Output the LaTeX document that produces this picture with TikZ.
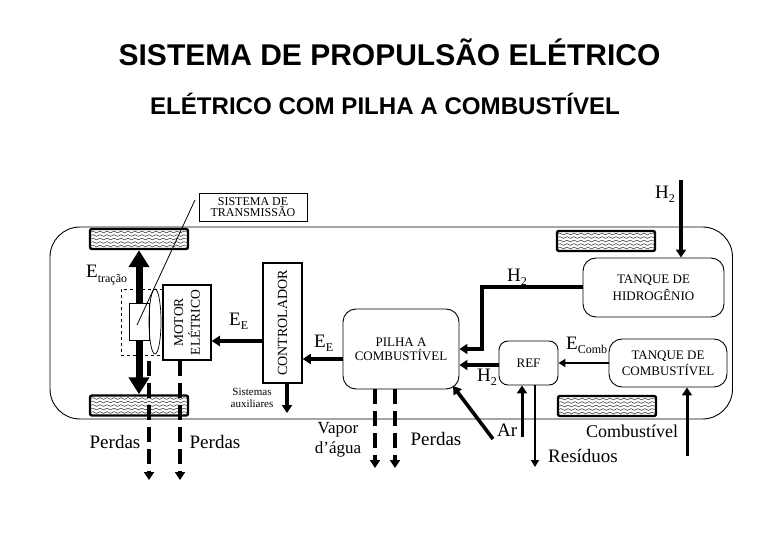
\documentclass[tikz,border=0pt]{standalone}
\usepackage{fontspec}
\usepackage{graphicx}
\setmainfont{Liberation Serif}
\newfontfamily\arialfont{Liberation Sans}
\usetikzlibrary{arrows.meta,decorations.pathmorphing,shapes.geometric}
\newcommand{\fsz}[1]{\fontsize{#1}{#1}\selectfont}
\newcommand{\lab}[3]{{\fsz{#1}#2\raisebox{-0.22em}{\fsz{12}#3}}}
\tikzset{
  titletext/.style={font=\arialfont\bfseries\fsz{30}},
  subtitletext/.style={font=\arialfont\bfseries\fsz{24.1}},
  body/.style={draw,line width=0.9pt,rounded corners=30pt},
  tyre/.style={draw,line width=2.4pt,rounded corners=2pt,fill=white,minimum width=98pt,minimum height=20pt,inner sep=0pt},
  wave/.style={draw=black!75,line width=0.5pt,decorate,decoration={snake,amplitude=0.9pt,segment length=7pt}},
  sqbox/.style={draw,line width=1.5pt,fill=white,inner sep=0pt,align=center},
  rbox/.style={draw,line width=0.9pt,rounded corners=13pt,fill=white,inner sep=0pt,align=center},
  boxtext/.style={font=\fsz{13},align=center},
  heavy/.style={line width=7pt,-{Triangle[length=17pt,width=20pt]}},
  flow/.style={line width=3.6pt,-{Triangle[length=8pt,width=10pt]}},
  thinflow/.style={line width=2pt,-{Triangle[length=7pt,width=8pt]}},
  lossflow/.style={line width=4.2pt,dash pattern=on 15pt off 7pt,-{Triangle[length=8pt,width=10pt]}},
  plain/.style={line width=0.8pt},
}
\newcommand{\tyreat}[3]{%
  \node[tyre] (#1) at (#2,#3) {};
  \foreach \dy in {-7,-3.5,0,3.5,7}{
    \path[wave] ([xshift=2pt,yshift=\dy pt]#1.west) -- ([xshift=-2pt,yshift=\dy pt]#1.east);
  }
}
\begin{document}
\begin{tikzpicture}[x=1pt,y=-1pt]
\useasboundingbox (0,0) rectangle (780,540);
\fill[white] (0,0) rectangle (780,540);
\node[titletext] (title) at (389.5,52) {SISTEMA DE PROPULSÃO ELÉTRICO};
\node[subtitletext] (subtitle) at (385,104) {ELÉTRICO COM PILHA A COMBUSTÍVEL};

\draw[body] (50,227) rectangle (732.5,419);
\tyreat{tl}{139}{239}
\tyreat{bl}{139}{405.5}
\tyreat{tr}{606}{241}
\tyreat{br}{607}{406}

% transmission
\node[draw,line width=0.9pt,fill=white,minimum width=108pt,minimum height=28pt,inner sep=0pt,align=center,font=\fsz{12}] (trans) at (253,207) {SISTEMA DE\\[-1pt]TRANSMISSÃO};
\node[draw,line width=0.7pt,dashed,minimum width=42pt,minimum height=66pt,inner sep=0pt] (gear) at (142,322) {};
\node[draw,line width=0.8pt,fill=white,minimum width=20pt,minimum height=37pt,inner sep=0pt] (diff) at (139,321.5) {};
\node[draw,line width=0.7pt,ellipse,minimum width=12pt,minimum height=65pt,inner sep=0pt] (ell) at (155,321.5) {};
\draw[heavy] (diff.north) -- (tl.south);
\draw[heavy] (diff.south) -- (bl.north);
\coordinate (lineend) at (137,325);
\coordinate (linestart) at (195,200);
\draw[plain] (linestart) -- (lineend);

\node[sqbox,minimum width=48pt,minimum height=75pt] (motor) at (187,322.5)
  {\rotatebox{90}{\fsz{13.5}\shortstack{MOTOR\\[2pt]ELÉTRICO}}};
\node[sqbox,minimum width=39pt,minimum height=120pt] (ctrl) at (282.5,323)
  {\rotatebox{90}{\fsz{14}CONTROLADOR}};
\node[rbox,boxtext,minimum width=116pt,minimum height=80pt] (cell) at (401,349) {PILHA A\\[1pt]COMBUSTÍVEL};
\node[rbox,boxtext,minimum width=141pt,minimum height=59pt] (htank) at (653.5,287.5) {TANQUE DE\\[3pt]HIDROGÊNIO};
\node[rbox,boxtext,minimum width=118pt,minimum height=48pt] (ftank) at (668,363) {TANQUE DE\\[2pt]COMBUSTÍVEL};
\node[rbox,boxtext,rounded corners=9pt,minimum width=59pt,minimum height=44pt] (ref) at (528.5,363) {REF};

% flows
\draw[flow] (ctrl.west |- 0,341) -- (motor.east |- 0,341);
\draw[flow] (cell.west |- 0,359) -- (ctrl.east |- 0,359);
\coordinate (auxend) at (287,413);
\draw[flow] (ctrl.south -| auxend) -- (auxend);
\coordinate (htop) at (681,180);
\draw[flow] (htop) -- (htank.north -| htop);
\coordinate (hbend) at (482,287);
\draw[flow,line width=3.4pt] (htank.west |- hbend) -- (hbend) |- (cell.east |- 0,349);
\draw[flow] (ref.west |- 0,365) -- (cell.east |- 0,365);
\draw[thinflow] (ftank.west |- 0,363) -- (ref.east |- 0,363);
\coordinate (arstart) at (493,439);
\coordinate (arend) at (453,386);
\draw[flow] (arstart) -- (arend);
\coordinate (arup) at (522,437);
\draw[flow,line width=3pt] (arup) -- (ref.south -| arup);
\coordinate (resend) at (535,467);
\draw[thinflow] (ref.south -| resend) -- (resend);
\coordinate (fuelstart) at (687,456);
\draw[flow,line width=3pt] (fuelstart) -- (ftank.south -| fuelstart);

% losses
\coordinate (l1) at (149,480);
\coordinate (l2) at (180,480);
\coordinate (l3) at (375,468);
\coordinate (l4) at (395,468);
\draw[lossflow] (motor.south -| l1) -- (l1);
\draw[lossflow] (motor.south -| l2) -- (l2);
\draw[lossflow] (cell.south -| l3) -- (l3);
\draw[lossflow] (cell.south -| l4) -- (l4);

% labels
\node[anchor=west,inner sep=0pt] (etr) at (86,275) {\lab{19}{E}{tração}};
\node[anchor=west,inner sep=0pt] (ee1) at (229,321) {\lab{19}{E}{E}};
\node[anchor=west,inner sep=0pt] (ee2) at (314,343) {\lab{19}{E}{E}};
\node[align=center,font=\fsz{11},inner sep=0pt] (aux) at (252,398) {Sistemas\\[1pt]auxiliares};
\node[font=\fsz{19},inner sep=0pt] (p1) at (115,442) {Perdas};
\node[font=\fsz{19},inner sep=0pt] (p2) at (215,442) {Perdas};
\node[align=center,font=\fsz{17},inner sep=0pt] (vap) at (338,440) {Vapor\\[3pt]d’água};
\node[font=\fsz{19},inner sep=0pt] (p3) at (436,439) {Perdas};
\node[anchor=west,font=\fsz{19},inner sep=0pt] (ar) at (497,430) {Ar};
\node[font=\fsz{18},inner sep=0pt] (comb) at (632,431) {Combustível};
\node[font=\fsz{19},inner sep=0pt] (res) at (583,456) {Resíduos};
\node[anchor=west,inner sep=0pt] (h1) at (655,194) {\lab{19}{H}{2}};
\node[anchor=west,inner sep=0pt] (h2) at (507,277) {\lab{19}{H}{2}};
\node[anchor=west,inner sep=0pt] (h3) at (477,377) {\lab{19}{H}{2}};
\node[anchor=west,inner sep=0pt] (ec) at (566,345) {\lab{19}{E}{Comb}};
\end{tikzpicture}
\end{document}
